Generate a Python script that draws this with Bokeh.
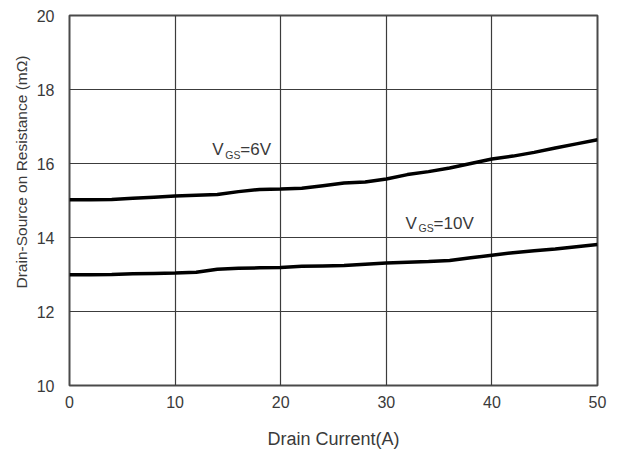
from bokeh.plotting import figure
from bokeh.models import Range1d, FixedTicker, Label, Title
from bokeh.embed import file_html
from bokeh.resources import INLINE

# Data
current = [0, 2, 4, 6, 8, 10, 12, 14, 16, 18, 20, 22, 24, 26, 28, 30, 32, 34, 36, 38, 40, 42, 44, 46, 48, 50]
rds_6v = [15.02, 15.02, 15.03, 15.06, 15.09, 15.12, 15.14, 15.16, 15.24, 15.30, 15.31, 15.33, 15.40,
          15.47, 15.50, 15.58, 15.70, 15.78, 15.88, 16.00, 16.12, 16.20, 16.30, 16.42, 16.53, 16.64]
rds_10v = [12.99, 12.99, 13.00, 13.02, 13.03, 13.04, 13.06, 13.14, 13.17, 13.18, 13.19, 13.22, 13.23,
           13.24, 13.28, 13.31, 13.33, 13.35, 13.38, 13.45, 13.52, 13.59, 13.64, 13.69, 13.75, 13.81]
x_ticks = [0, 10, 20, 30, 40, 50]
y_ticks = [10, 12, 14, 16, 18, 20]
x_title = "Drain Current(A)"
y_title = "Drain-Source on Resistance (m\u03a9)"

FONT = "Liberation Sans"
TXT = "#3a3a3a"

p = figure(width=611, height=451, output_backend="svg", toolbar_location=None,
           x_range=Range1d(0, 50), y_range=Range1d(10, 20),
           min_border_left=69, min_border_right=14, min_border_top=15, min_border_bottom=64)
p.background_fill_color = "white"
p.border_fill_color = "white"
p.outline_line_color = "#4a4a4a"
p.outline_line_width = 2
p.outline_line_alpha = 1

p.xaxis.ticker = FixedTicker(ticks=x_ticks)
p.yaxis.ticker = FixedTicker(ticks=y_ticks)
for ax in (p.xaxis, p.yaxis):
    ax.axis_line_color = None
    ax.major_tick_line_color = None
    ax.minor_tick_line_color = None
    ax.major_label_text_font = FONT
    ax.major_label_text_font_size = "16px"
    ax.major_label_text_color = TXT
    ax.axis_label_text_font = FONT
    ax.axis_label_text_font_style = "normal"
    ax.axis_label_text_color = TXT

p.xaxis.axis_label = x_title
p.xaxis.axis_label_text_font_size = "18px"
p.xaxis.major_label_standoff = 4
p.yaxis.major_label_standoff = 9
p.xaxis.axis_label_standoff = 18

# y title sits above the frame's centre in the reference: a left-side title anchored at the bottom
p.add_layout(Title(text=y_title, align="left", offset=97, standoff=7,
                   text_font=FONT, text_font_size="15.5px", text_font_style="normal",
                   text_color=TXT), "left")

p.xgrid.ticker = FixedTicker(ticks=x_ticks)
p.ygrid.ticker = FixedTicker(ticks=y_ticks)
for g in (p.xgrid, p.ygrid):
    g.grid_line_color = "#3c3c3c"
    g.grid_line_width = 1.2
    g.grid_line_alpha = 1

p.line(current, rds_6v, line_color="black", line_width=3.5)
p.line(current, rds_10v, line_color="black", line_width=3.5)

def vgs_label(x, y, val):
    p.add_layout(Label(x=x, y=y, text="V", text_font=FONT, text_font_size="17px",
                       text_color=TXT, text_baseline="alphabetic", text_align="left"))
    p.add_layout(Label(x=x, y=y, x_offset=13, y_offset=-5, text="GS", text_font=FONT,
                       text_font_size="10.5px", text_color=TXT, text_baseline="alphabetic",
                       text_align="left"))
    p.add_layout(Label(x=x, y=y, x_offset=28, text="=" + val, text_font=FONT,
                       text_font_size="17px", text_color=TXT, text_baseline="alphabetic",
                       text_align="left"))

vgs_label(13.52, 16.37, "6V")
vgs_label(31.83, 14.38, "10V")

open("out.html", "w").write(file_html(p, INLINE))
